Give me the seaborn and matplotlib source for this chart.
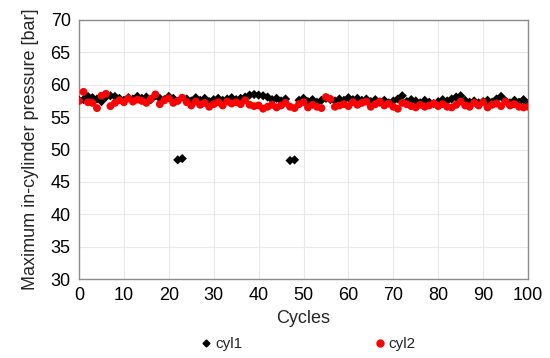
import numpy as np
import pandas as pd
import matplotlib
matplotlib.use("Agg")
import matplotlib.pyplot as plt
import seaborn as sns
from matplotlib.lines import Line2D

cycles = list(range(0, 101))
cyl1 = [57.6,
        57.7, 58.2, 58.0, 57.8, 57.4, 58.1, 58.3, 58.2, 57.9, 57.6,
        58.0, 57.8, 58.2, 57.9, 58.1, 57.7, 58.3, 57.9, 57.7, 58.2,
        57.9, 48.4, 48.6, 57.8, 57.5, 58.0, 57.6, 57.9, 57.4, 57.7,
        57.9, 57.6, 57.8, 58.0, 57.7, 57.9, 58.1, 58.4, 58.5, 58.4,
        58.3, 58.1, 57.7, 57.9, 57.5, 57.8, 48.3, 48.4, 57.6, 57.9,
        57.4, 57.7, 57.3, 57.6, 57.9, 57.7, 57.5, 57.8, 57.6, 58.0,
        57.7, 57.9, 57.6, 57.8, 57.4, 57.7, 57.3, 57.6, 57.2, 57.5,
        57.8, 58.3, 57.4, 57.7, 57.5, 57.2, 57.6, 57.3, 57.1, 57.4,
        57.7, 57.5, 57.8, 58.1, 58.3, 57.6, 57.3, 57.5, 57.2, 57.4,
        57.6, 57.3, 57.8, 58.2, 57.5, 57.2, 57.6, 57.3, 57.7, 57.0]
cyl2 = [57.5,
        58.9, 57.3, 57.2, 56.4, 58.3, 58.6, 56.7, 57.2, 57.6, 57.3,
        57.9, 57.4, 57.7, 57.5, 57.2, 57.8, 58.5, 57.0, 57.6, 57.9,
        57.2, 57.5, 58.0, 57.3, 56.8, 57.4, 56.9, 57.2, 56.6, 57.0,
        57.3, 56.8, 57.4, 57.1, 57.3, 57.0, 57.6, 56.9, 56.7, 56.8,
        56.3, 56.6, 56.9, 56.5, 56.8, 57.2, 56.6, 56.4, 57.0, 57.3,
        56.5, 56.9, 56.6, 56.4, 58.1, 57.8, 56.6, 56.8, 57.0, 56.7,
        57.3, 56.9, 57.2, 57.4, 56.6, 57.0, 57.4, 56.8, 57.1, 56.6,
        56.3, 57.2, 57.0, 56.7, 56.5, 56.9, 56.6, 56.8, 57.1, 56.7,
        57.0, 56.6, 56.5, 56.9, 57.4, 56.8, 56.6, 57.2, 56.8, 57.3,
        56.5, 56.9, 57.1, 56.7, 57.4, 56.8, 57.0, 56.6, 56.5, 56.6]
series_names = ["cyl1", "cyl2"]
x_ticks = list(range(0, 101, 10))
y_ticks = list(range(30, 71, 5))

df = pd.DataFrame({
    "Cycles": cycles * 2,
    "Pressure": cyl1 + cyl2,
    "Series": [series_names[0]] * len(cycles) + [series_names[1]] * len(cycles),
})

sns.set_style("white")
plt.rcParams["font.family"] = ["Liberation Sans", "DejaVu Sans"]

fig = plt.figure(figsize=(5.5, 3.58), dpi=100)
ax = fig.add_axes([79/550, 1 - 279/358, (528 - 79)/550, (279 - 20)/358])

palette = {"cyl1": "black", "cyl2": "#ff0000"}
sizes = {"cyl1": 22, "cyl2": 32}
markers = {"cyl1": "D", "cyl2": "o"}
for name in series_names:
    sub = df[df["Series"] == name]
    sns.scatterplot(data=sub, x="Cycles", y="Pressure", ax=ax, color=palette[name],
                    marker=markers[name], s=sizes[name], edgecolor="none",
                    linewidth=0, legend=False, zorder=3)

ax.set_xlim(0, 100)
ax.set_ylim(30, 70)
ax.set_xticks(x_ticks)
ax.set_yticks(y_ticks)
ax.grid(True, color="#e8e8e8", linewidth=0.8)
ax.set_axisbelow(True)
for sp in ax.spines.values():
    sp.set_color("#8c8c8c")
    sp.set_linewidth(1.0)
ax.tick_params(axis="both", labelsize=13, length=0, pad=6, colors="black")
ax.set_xlabel("Cycles", fontsize=13, labelpad=4)
ax.set_ylabel("Maximum in-cylinder pressure [bar]", fontsize=13, labelpad=8)

handles = [Line2D([], [], marker="D", color="black", linestyle="none", markersize=3.5),
           Line2D([], [], marker="o", color="#ff0000", linestyle="none", markersize=5)]
fig.legend(handles, series_names, loc="center", bbox_to_anchor=(307/550, 1 - 344/358),
           ncol=2, frameon=False, fontsize=11, columnspacing=8.5, handletextpad=0.1,
           handlelength=1.0)

fig.savefig("out.png", dpi=100)
